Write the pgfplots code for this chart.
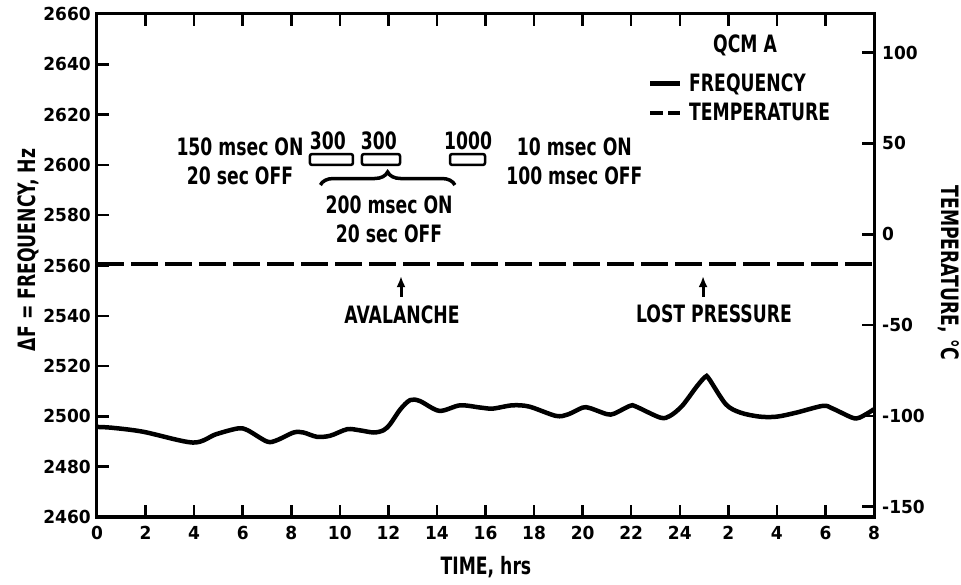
\documentclass[border=0pt]{standalone}
\usepackage{fontspec}
\setmainfont{DejaVu Sans}[FakeStretch=0.72]
\newfontfamily\tickfont{DejaVu Sans}[FakeStretch=0.95]
\usepackage{pgfplots}
\pgfplotsset{compat=1.18}
\usetikzlibrary{arrows.meta,decorations.pathreplacing}
\newcommand\lab{\bfseries\fontsize{24}{29}\selectfont}
\newcommand\tck{\tickfont\bfseries\fontsize{18}{18}\selectfont}
\begin{document}
\begin{tikzpicture}
\begin{axis}[name=ax, scale only axis, width=777bp, height=503bp,
  xmin=0, xmax=32, ymin=2460, ymax=2660,
  xtick={0,2,...,32},
  xticklabels={0,2,4,6,8,10,12,14,16,18,20,22,24,2,4,6,8},
  ytick={2460,2480,...,2660},
  yticklabels={2460,2480,2500,2520,2540,2560,2580,2600,2620,2640,2660},
  ytick pos=left, xtick pos=both, tick align=inside,
  major tick length=12bp,
  tick style={line width=2.5bp, black},
  axis line style={line width=3bp},
  xticklabel style={font=\tck, inner sep=0pt, yshift=-9bp},
  yticklabel style={font=\tck, inner sep=0pt, xshift=-6bp},
  xlabel={TIME, hrs},
  xlabel style={font=\lab, at={(axis description cs:0.5006,-0.0994)}, anchor=center},
  ylabel={ΔF = FREQUENCY, Hz},
  ylabel style={font=\lab, at={(axis description cs:-0.0888,0.531)}, anchor=center},
  legend style={at={(0.705,0.885)}, anchor=north west, draw=none, fill=none,
    font=\lab, row sep=10bp, nodes={inner sep=0pt}},
  legend cell align=left,
  legend image code/.code={\path[draw=none,fill=none] (0bp,-6bp) rectangle (39bp,6bp); \draw[#1] (0bp,0bp) -- (30bp,0bp);},
]
\addplot[black, line width=4.5bp, smooth, tension=0.5] coordinates {
(0,2495.8) (0.6,2495.5) (1.9,2493.9) (3.95,2489.6) (4.9,2492.9) (5.8,2495.2)
(6.2,2494.5) (7.0,2490.0) (7.4,2490.5) (8.1,2493.6) (8.5,2493.6) (9.05,2491.9)
(9.6,2492.3) (10.3,2494.9) (10.8,2494.5) (11.4,2493.6) (11.8,2494.5) (12.07,2496.9)
(12.5,2502.9) (12.9,2506.5) (13.3,2506.1) (14.1,2502.2) (14.95,2504.4) (15.8,2503.5)
(16.3,2503.1) (17.1,2504.4) (17.8,2503.9) (18.9,2500.2) (19.4,2500.8) (20.0,2503.5)
(20.3,2503.3) (21.0,2500.9) (21.3,2501.1) (21.95,2504.2) (22.2,2503.9) (23.2,2499.5)
(23.6,2500.2) (24.1,2504.2) (24.7,2511.9) (25.05,2515.7) (25.2,2515.0) (25.9,2504.8)
(26.5,2501.5) (27.3,2499.9) (28.0,2499.9) (28.8,2501.5) (29.9,2504.2) (30.3,2503.1)
(31.1,2499.5) (31.4,2499.5) (31.9,2502.2) (32,2503)
};
\addlegendentry{FREQUENCY}
\addlegendimage{black, line width=4bp, dash pattern=on 13bp off 5bp}
\addlegendentry{TEMPERATURE}
% heater-pulse boxes
\addplot[forget plot, black, line width=2.5bp, rounded corners=2bp] coordinates {(8.77,2600) (10.54,2600) (10.54,2604.3) (8.77,2604.3)} -- cycle;
\addplot[forget plot, black, line width=2.5bp, rounded corners=2bp] coordinates {(10.91,2600) (12.48,2600) (12.48,2604.3) (10.91,2604.3)} -- cycle;
\addplot[forget plot, black, line width=2.5bp, rounded corners=2bp] coordinates {(14.54,2600) (15.98,2600) (15.98,2604.3) (14.54,2604.3)} -- cycle;
\node[font=\lab] at (axis cs:26.69,2647.7) {QCM A};
\node[font=\lab, align=center] at (axis cs:5.89,2601.5) {150 msec ON\\20 sec OFF};
\node[font=\lab, align=center] at (axis cs:19.66,2601.5) {10 msec ON\\100 msec OFF};
\node[font=\lab] at (axis cs:9.51,2609.5) {300};
\node[font=\lab] at (axis cs:11.61,2609.5) {300};
\node[font=\lab] at (axis cs:15.28,2609.5) {1000};
\draw[decorate, decoration={brace, amplitude=13bp}, line width=3.5bp] (axis cs:9.2,2592) -- (axis cs:14.74,2592);
\node[font=\lab, align=center] at (axis cs:12.03,2578.5) {200 msec ON\\20 sec OFF};
\draw[-{Latex[length=11bp,width=9bp]}, line width=3bp] (axis cs:12.52,2547.5) -- (axis cs:12.52,2555.8);
\node[font=\lab] at (axis cs:12.56,2540.3) {AVALANCHE};
\draw[-{Latex[length=11bp,width=9bp]}, line width=3bp] (axis cs:24.96,2547.5) -- (axis cs:24.96,2555.8);
\node[font=\lab] at (axis cs:25.41,2540.7) {LOST PRESSURE};
\end{axis}
\begin{axis}[scale only axis, width=777bp, height=503bp,
  xmin=0, xmax=32, ymin=-155.7, ymax=121.3,
  axis x line=none, axis y line*=right,
  ytick={-150,-100,-50,0,50,100},
  yticklabels={-150,-100,-50,0,50,100},
  ytick pos=right, tick align=inside,
  major tick length=12bp,
  tick style={line width=2.5bp, black},
  axis line style={line width=3bp},
  yticklabel style={font=\tck, inner sep=0pt, xshift=8bp},
  ylabel={TEMPERATURE, °C},
  ylabel style={font=\lab, at={(axis description cs:1.0965,0.485)}, anchor=center, rotate=180},
]
\addplot[black, line width=4bp, dash pattern=on 27bp off 7bp] coordinates {(0,-16.5) (32,-16.5)};
\end{axis}
\pgfresetboundingbox
\path[use as bounding box] ([xshift=-97bp,yshift=-68bp]ax.south west) rectangle ([xshift=87bp,yshift=14bp]ax.north east);
\end{tikzpicture}
\end{document}
